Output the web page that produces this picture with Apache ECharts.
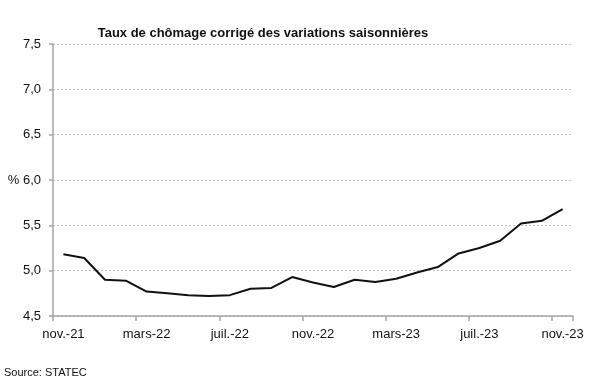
<!DOCTYPE html>
<html>
<head>
<meta charset="utf-8">
<script src="https://cdn.jsdelivr.net/npm/echarts@6/dist/echarts.min.js"></script>
<style>html,body{margin:0;padding:0;background:#fff}#c{width:600px;height:386px}</style>
</head>
<body>
<div id="c"></div>
<script>
var categories = ['nov.-21','déc.-21','janv.-22','févr.-22','mars-22','avr.-22','mai-22','juin-22','juil.-22','août-22','sept.-22','oct.-22',
  'nov.-22','déc.-22','janv.-23','févr.-23','mars-23','avr.-23','mai-23','juin-23','juil.-23','août-23','sept.-23','oct.-23','nov.-23'];
var rates = [5.18,5.14,4.90,4.89,4.77,4.75,4.73,4.72,4.73,4.80,4.81,4.93,4.87,4.82,4.90,4.875,4.91,4.98,5.04,5.19,5.25,5.33,5.52,5.55,5.68];
var yTicks = {min:4.5, max:7.5, interval:0.5};
var titleText = 'Taux de chômage corrigé des variations saisonnières';
var sourceText = 'Source: STATEC';

var font = 'Liberation Sans';
var chart = echarts.init(document.getElementById('c'));
chart.setOption({
  animation:false,
  title:{text:titleText, left:258, top:22, textAlign:'center',
    textStyle:{fontFamily:font, fontSize:13, fontWeight:'bold', color:'#111'}},
  graphic:[{type:'text', left:4, top:367, style:{text:sourceText, fontFamily:font, fontSize:11, fill:'#111'}}],
  grid:{left:53, right:27, top:44, bottom:70},
  xAxis:{type:'category', data:categories, boundaryGap:true,
    axisLine:{lineStyle:{color:'#a6a6a6', width:1.5}},
    axisTick:{show:true, interval:3, length:5, lineStyle:{color:'#a6a6a6', width:1.5}},
    axisLabel:{interval:3, margin:12, fontFamily:font, fontSize:13, color:'#111'},
    splitLine:{show:false}},
  yAxis:{type:'value', min:yTicks.min, max:yTicks.max, interval:yTicks.interval,
    axisLine:{show:true, lineStyle:{color:'#a6a6a6', width:1.5}},
    axisTick:{show:true, length:4, lineStyle:{color:'#a6a6a6', width:1.5}},
    axisLabel:{margin:12, fontFamily:font, fontSize:13, color:'#111',
      formatter:function(v){var s=v.toFixed(1).replace('.',','); return Math.abs(v-6)<1e-9 ? '% '+s : s;}},
    splitLine:{show:true, lineStyle:{color:'#bfbfbf', type:[2,2], width:1}}},
  series:[{type:'line', data:rates, symbol:'none', lineStyle:{color:'#111', width:2}}]
});
</script>
</body>
</html>
